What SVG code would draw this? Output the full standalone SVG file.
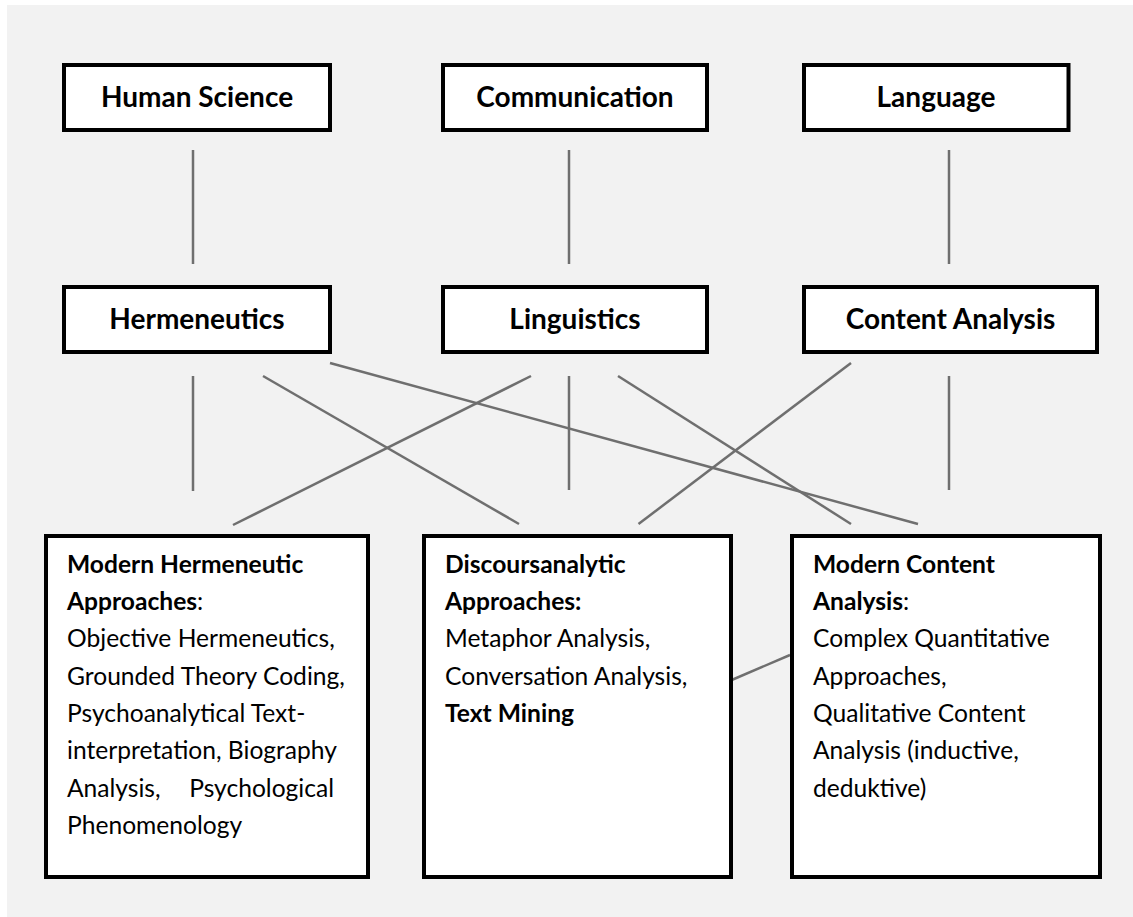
<svg xmlns="http://www.w3.org/2000/svg" width="1133" height="917" viewBox="0 0 1133 917">
<style>
.box{fill:#fff;stroke:#000;stroke-width:4}
.hd{font-family:Lato,"Liberation Sans",sans-serif;font-weight:bold;font-size:28px;fill:#000;text-anchor:middle}
.tx{font-family:Lato,"Liberation Sans",sans-serif;font-size:24.6px;fill:#000}
.b{font-weight:bold}
#connectors line{stroke:#6f6f6f;stroke-width:2.5;fill:none}
</style>
<rect x="7" y="5" width="1126" height="912" fill="#f2f2f2"/>
<g id="connectors">
<line x1="193" y1="150" x2="193" y2="264"/>
<line x1="569" y1="150" x2="569" y2="264"/>
<line x1="949" y1="150" x2="949" y2="264"/>
<line x1="193" y1="376" x2="193" y2="491"/>
<line x1="569" y1="376" x2="569" y2="490"/>
<line x1="949" y1="376" x2="949" y2="490"/>
<line x1="263" y1="376" x2="519" y2="524"/>
<line x1="531" y1="376" x2="233" y2="525"/>
<line x1="618" y1="376" x2="851" y2="524"/>
<line x1="851" y1="363" x2="638.5" y2="524"/>
<line x1="330" y1="363" x2="918" y2="524"/>
<line x1="731.7" y1="680" x2="790" y2="655"/>
</g>
<g id="human-science">
<rect class="box" x="64" y="65" width="266" height="65"/>
<text class="hd" x="197" y="107">Human Science</text>
</g>
<g id="communication">
<rect class="box" x="443" y="65" width="264" height="65"/>
<text class="hd" x="575" y="107">Communication</text>
</g>
<g id="language">
<rect class="box" x="804" y="65" width="264.5" height="65"/>
<text class="hd" x="936" y="107">Language</text>
</g>
<g id="hermeneutics">
<rect class="box" x="64" y="287" width="266" height="65"/>
<text class="hd" x="197" y="329">Hermeneutics</text>
</g>
<g id="linguistics">
<rect class="box" x="443" y="287" width="264" height="65"/>
<text class="hd" x="575" y="329">Linguistics</text>
</g>
<g id="content-analysis">
<rect class="box" x="804" y="287" width="293" height="65"/>
<text class="hd" x="950.5" y="329">Content Analysis</text>
</g>
<g id="modern-hermeneutic">
<rect class="box" x="46" y="536" width="322" height="341"/>
<text class="tx" x="67" y="573"><tspan class="b">Modern Hermeneutic</tspan></text>
<text class="tx" x="67" y="610"><tspan class="b">Approaches</tspan>:</text>
<text class="tx" x="67" y="647.3">Objective Hermeneutics,</text>
<text class="tx" x="67" y="684.6">Grounded Theory Coding,</text>
<text class="tx" x="67" y="722">Psychoanalytical Text-</text>
<text class="tx" x="67" y="759">interpretation, Biography</text>
<text class="tx" x="67" y="796.6">Analysis,</text>
<text class="tx" x="334" y="796.6" text-anchor="end">Psychological</text>
<text class="tx" x="67" y="833.8">Phenomenology</text>
</g>
<g id="discoursanalytic">
<rect class="box" x="424" y="536" width="307" height="341"/>
<text class="tx b" x="445" y="573">Discoursanalytic</text>
<text class="tx b" x="445" y="610">Approaches:</text>
<text class="tx" x="445" y="647.3">Metaphor Analysis,</text>
<text class="tx" x="445" y="684.6">Conversation Analysis,</text>
<text class="tx b" x="445" y="722">Text Mining</text>
</g>
<g id="modern-content">
<rect class="box" x="792" y="536" width="308" height="341"/>
<text class="tx b" x="813" y="573">Modern Content</text>
<text class="tx" x="813" y="610"><tspan class="b">Analysis</tspan>:</text>
<text class="tx" x="813" y="647.3">Complex Quantitative</text>
<text class="tx" x="813" y="684.6">Approaches,</text>
<text class="tx" x="813" y="722">Qualitative Content</text>
<text class="tx" x="813" y="759">Analysis (inductive,</text>
<text class="tx" x="813" y="796.6">deduktive)</text>
</g>
</svg>
